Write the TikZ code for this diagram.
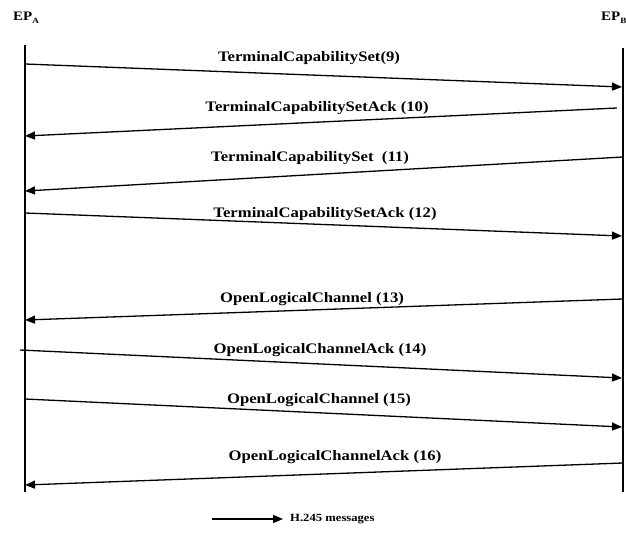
\documentclass[tikz,border=0pt]{standalone}
\usepackage{fontspec}
\setmainfont{Liberation Serif}
\newfontfamily\lblfont[FakeStretch=1.15]{Liberation Serif}
\usetikzlibrary{arrows.meta}
\tikzset{
  lifeline/.style={line width=1.8pt},
  msg/.style={line width=1.3pt,-{Triangle[length=10pt,width=8pt]}},
  msglabel/.style={font=\lblfont\bfseries\fontsize{14.5}{16}\selectfont,inner sep=0pt},
  eplabel/.style={font=\lblfont\bfseries\fontsize{13}{15}\selectfont,inner sep=0pt,anchor=base west},
}
\newcommand{\epsub}[1]{\raisebox{-0.45ex}{\fontsize{8}{9}\selectfont #1}}
\begin{document}
\begin{tikzpicture}[x=1pt,y=-1pt]
\useasboundingbox (0,0) rectangle (626,535);
% endpoints
\node[eplabel] (epa) at (13,21) {EP\epsub{A}};
\node[eplabel] (epb) at (601,21) {EP\epsub{B}};
% lifelines
\coordinate (la top) at (25,45);
\coordinate (la bot) at (25,492);
\coordinate (lb top) at (623,48);
\coordinate (lb bot) at (623,492);
\draw[lifeline] (la top) -- (la bot);
\draw[lifeline] (lb top) -- (lb bot);
% message end points
\coordinate (m1s) at (25,64);   \coordinate (m1e) at (622,87);
\coordinate (m2s) at (617,108); \coordinate (m2e) at (25,136);
\coordinate (m3s) at (623,157); \coordinate (m3e) at (25,191);
\coordinate (m4s) at (25,213);  \coordinate (m4e) at (622,236);
\coordinate (m5s) at (623,299); \coordinate (m5e) at (25,320);
\coordinate (m6s) at (20,350);  \coordinate (m6e) at (622,378);
\coordinate (m7s) at (25,399);  \coordinate (m7e) at (622,427);
\coordinate (m8s) at (623,463); \coordinate (m8e) at (25,485);
\draw[msg] (m1s) -- (m1e);
\draw[msg] (m2s) -- (m2e);
\draw[msg] (m3s) -- (m3e);
\draw[msg] (m4s) -- (m4e);
\draw[msg] (m5s) -- (m5e);
\draw[msg] (m6s) -- (m6e);
\draw[msg] (m7s) -- (m7e);
\draw[msg] (m8s) -- (m8e);
% labels
\node[msglabel] (t1) at (309,58)  {TerminalCapabilitySet(9)};
\node[msglabel] (t2) at (317,108) {TerminalCapabilitySetAck (10)};
\node[msglabel] (t3) at (310,158) {TerminalCapabilitySet\ \ (11)};
\node[msglabel] (t4) at (325,214) {TerminalCapabilitySetAck (12)};
\node[msglabel] (t5) at (312,299) {OpenLogicalChannel (13)};
\node[msglabel] (t6) at (320,350) {OpenLogicalChannelAck (14)};
\node[msglabel] (t7) at (319,400) {OpenLogicalChannel (15)};
\node[msglabel] (t8) at (335,457) {OpenLogicalChannelAck (16)};
% legend
\coordinate (lgs) at (212,519);
\coordinate (lge) at (283,519);
\draw[msg] (lgs) -- (lge);
\node[font=\lblfont\bfseries\fontsize{11}{13}\selectfont,inner sep=0pt,anchor=west] (lgt) at (290,519) {H.245 messages};
\end{tikzpicture}
\end{document}
